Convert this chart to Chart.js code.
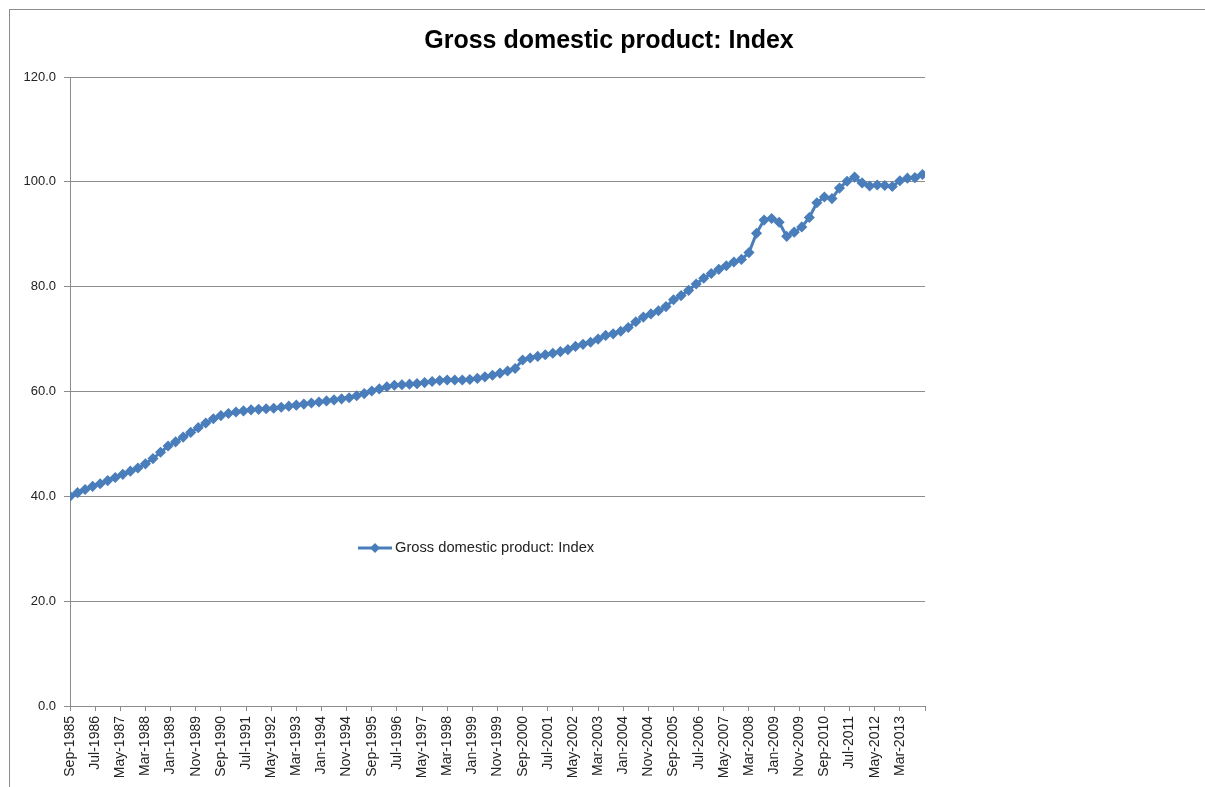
<!DOCTYPE html>
<html>
<head>
<meta charset="utf-8">
<script src="https://cdn.jsdelivr.net/npm/chart.js@4.4.1/dist/chart.umd.min.js"></script>
<style>
  html, body { margin: 0; padding: 0; background: #ffffff; overflow: hidden; }
  #wrap { position: relative; width: 1205px; height: 787px; }
  #frame { position: absolute; left: 9px; top: 9px; width: 1300px; height: 900px;
           border-top: 1px solid #8c8c8c; border-left: 1px solid #8c8c8c; pointer-events: none; }
  canvas { position: absolute; left: 0; top: 0; }
</style>
</head>
<body>
<div id="wrap">
  <div id="frame"></div>
  <canvas id="c" width="1205" height="787"></canvas>
</div>
<script>
// ---- data ----
const chartTitle = 'Gross domestic product: Index';
const seriesName = 'Gross domestic product: Index';

const quarters = [
  'Sep-1985','Dec-1985',
  'Mar-1986','Jun-1986','Sep-1986','Dec-1986',
  'Mar-1987','Jun-1987','Sep-1987','Dec-1987',
  'Mar-1988','Jun-1988','Sep-1988','Dec-1988',
  'Mar-1989','Jun-1989','Sep-1989','Dec-1989',
  'Mar-1990','Jun-1990','Sep-1990','Dec-1990',
  'Mar-1991','Jun-1991','Sep-1991','Dec-1991',
  'Mar-1992','Jun-1992','Sep-1992','Dec-1992',
  'Mar-1993','Jun-1993','Sep-1993','Dec-1993',
  'Mar-1994','Jun-1994','Sep-1994','Dec-1994',
  'Mar-1995','Jun-1995','Sep-1995','Dec-1995',
  'Mar-1996','Jun-1996','Sep-1996','Dec-1996',
  'Mar-1997','Jun-1997','Sep-1997','Dec-1997',
  'Mar-1998','Jun-1998','Sep-1998','Dec-1998',
  'Mar-1999','Jun-1999','Sep-1999','Dec-1999',
  'Mar-2000','Jun-2000','Sep-2000','Dec-2000',
  'Mar-2001','Jun-2001','Sep-2001','Dec-2001',
  'Mar-2002','Jun-2002','Sep-2002','Dec-2002',
  'Mar-2003','Jun-2003','Sep-2003','Dec-2003',
  'Mar-2004','Jun-2004','Sep-2004','Dec-2004',
  'Mar-2005','Jun-2005','Sep-2005','Dec-2005',
  'Mar-2006','Jun-2006','Sep-2006','Dec-2006',
  'Mar-2007','Jun-2007','Sep-2007','Dec-2007',
  'Mar-2008','Jun-2008','Sep-2008','Dec-2008',
  'Mar-2009','Jun-2009','Sep-2009','Dec-2009',
  'Mar-2010','Jun-2010','Sep-2010','Dec-2010',
  'Mar-2011','Jun-2011','Sep-2011','Dec-2011',
  'Mar-2012','Jun-2012','Sep-2012','Dec-2012',
  'Mar-2013','Jun-2013','Sep-2013','Dec-2013'
];

const gdpIndex = [
  40.0, 40.7,
  41.3, 41.9, 42.4, 43.0,
  43.6, 44.2, 44.8, 45.4,
  46.2, 47.2, 48.4, 49.6,
  50.4, 51.3, 52.2, 53.1,
  54.0, 54.8, 55.4, 55.8,
  56.1, 56.3, 56.5, 56.6,
  56.7, 56.8, 57.0, 57.2,
  57.4, 57.6, 57.8, 58.0,
  58.2, 58.4, 58.6, 58.8,
  59.2, 59.6, 60.1, 60.5,
  60.9, 61.2, 61.3, 61.4,
  61.5, 61.7, 61.9, 62.1,
  62.2, 62.2, 62.2, 62.3,
  62.5, 62.8, 63.1, 63.5,
  63.9, 64.4, 66.0, 66.4,
  66.7, 67.0, 67.3, 67.6,
  68.0, 68.6, 69.0, 69.4,
  70.0, 70.7, 71.0, 71.5,
  72.2, 73.3, 74.2, 74.8,
  75.4, 76.2, 77.5, 78.3,
  79.3, 80.5, 81.6, 82.5,
  83.3, 84.0, 84.7, 85.2,
  86.5, 90.2, 92.7, 93.0,
  92.3, 89.6, 90.4, 91.4,
  93.2, 96.0, 97.1, 96.8,
  98.8, 100.1, 100.9, 99.8,
  99.2, 99.4, 99.3, 99.1,
  100.2, 100.7, 100.8, 101.4
];

const xTickLabels = [
  'Sep-1985','Jul-1986','May-1987','Mar-1988','Jan-1989','Nov-1989',
  'Sep-1990','Jul-1991','May-1992','Mar-1993','Jan-1994','Nov-1994',
  'Sep-1995','Jul-1996','May-1997','Mar-1998','Jan-1999','Nov-1999',
  'Sep-2000','Jul-2001','May-2002','Mar-2003','Jan-2004','Nov-2004',
  'Sep-2005','Jul-2006','May-2007','Mar-2008','Jan-2009','Nov-2009',
  'Sep-2010','Jul-2011','May-2012','Mar-2013'
];

const yTickValues = [0, 20, 40, 60, 80, 100, 120];

// ---- helpers ----
const MONTHS = ['Jan','Feb','Mar','Apr','May','Jun','Jul','Aug','Sep','Oct','Nov','Dec'];
const BASE_YEAR = 1985, BASE_MONTH = 8; // Sep-1985
function monthOffset(lbl) {
  const [m, y] = lbl.split('-');
  return (parseInt(y, 10) - BASE_YEAR) * 12 + MONTHS.indexOf(m) - BASE_MONTH;
}
const TICK_STEP = monthOffset(xTickLabels[1]) - monthOffset(xTickLabels[0]);
const points = quarters.map((q, i) => ({ x: monthOffset(q), y: gdpIndex[i] }));
const xMax = monthOffset(xTickLabels[xTickLabels.length - 1]) + TICK_STEP;

const BLUE = '#4A7EBB';
const GRID = '#8c8c8c';

const legendPlugin = {
  id: 'innerLegend',
  afterDraw(chart) {
    const ctx = chart.ctx;
    const ds = chart.data.datasets[0];
    const x0 = 358, x1 = 392, y = 548;
    ctx.save();
    ctx.strokeStyle = BLUE;
    ctx.lineWidth = 3;
    ctx.beginPath();
    ctx.moveTo(x0, y); ctx.lineTo(x1, y); ctx.stroke();
    ctx.fillStyle = BLUE;
    const cx = (x0 + x1) / 2, r = 5;
    ctx.beginPath();
    ctx.moveTo(cx - r, y); ctx.lineTo(cx, y - r); ctx.lineTo(cx + r, y); ctx.lineTo(cx, y + r);
    ctx.closePath(); ctx.fill();
    ctx.fillStyle = '#222';
    ctx.font = '14.7px "Liberation Sans", Arial, sans-serif';
    ctx.textBaseline = 'middle';
    ctx.textAlign = 'left';
    ctx.fillText(ds.label, x1 + 3, y);
    ctx.restore();
  }
};

new Chart(document.getElementById('c'), {
  type: 'line',
  data: {
    datasets: [{
      label: seriesName,
      data: points,
      borderColor: BLUE,
      backgroundColor: BLUE,
      borderWidth: 3,
      pointStyle: 'rectRot',
      pointRadius: 4.5,
      pointBorderWidth: 1.5,
      pointBackgroundColor: BLUE,
      pointBorderColor: BLUE,
      tension: 0,
      fill: false
    }]
  },
  options: {
    responsive: false,
    animation: false,
    layout: { padding: { left: 13, right: 0, top: 0, bottom: 0 } },
    plugins: {
      legend: { display: false },
      tooltip: { enabled: false },
      title: {
        display: true,
        text: chartTitle,
        color: '#000',
        font: { family: '"Liberation Sans", Arial, sans-serif', size: 25, weight: 'bold', lineHeight: 1.2 },
        padding: { top: 26, bottom: 21 }
      }
    },
    scales: {
      x: {
        type: 'linear',
        min: 0,
        max: xMax,
        afterBuildTicks(scale) {
          const t = [];
          for (let v = 0; v <= xMax; v += TICK_STEP) t.push({ value: v });
          scale.ticks = t;
        },
        afterFit(scale) { scale.height = 81; },
        ticks: {
          autoSkip: false,
          maxRotation: 90,
          minRotation: 90,
          padding: 5,
          color: '#222',
          font: { family: '"Liberation Sans", Arial, sans-serif', size: 14 },
          callback: (v) => xTickLabels[Math.round(v / TICK_STEP)] || ''
        },
        grid: { display: true, drawOnChartArea: false, drawTicks: true, tickLength: 5, color: GRID, lineWidth: 1 },
        border: { display: true, color: GRID, width: 1 }
      },
      y: {
        type: 'linear',
        position: 'left',
        min: 0,
        max: 120,
        afterBuildTicks(scale) { scale.ticks = yTickValues.map(v => ({ value: v })); },
        afterFit(scale) { scale.width = 57; },
        ticks: {
          padding: 8,
          color: '#222',
          font: { family: '"Liberation Sans", Arial, sans-serif', size: 13 },
          callback: (v) => Number(v).toFixed(1)
        },
        grid: { display: true, drawOnChartArea: true, drawTicks: true, tickLength: 6, color: GRID, lineWidth: 1 },
        border: { display: true, color: GRID, width: 1 }
      },
      spacer: {
        type: 'linear',
        position: 'right',
        display: true,
        afterFit(scale) { scale.width = 280; },
        ticks: { display: false },
        grid: { display: false, drawTicks: false },
        border: { display: false }
      }
    }
  },
  plugins: [legendPlugin]
});
</script>
</body>
</html>
